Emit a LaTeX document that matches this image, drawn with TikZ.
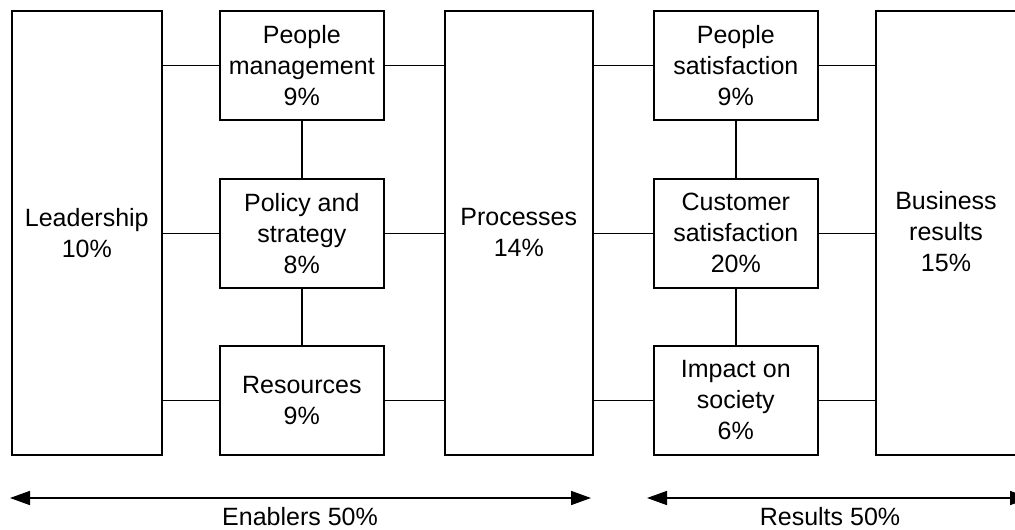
\documentclass[tikz,border=0pt]{standalone}
\usepackage{fontspec}
\setmainfont{Liberation Sans}
\usetikzlibrary{arrows.meta}
\begin{document}
\begin{tikzpicture}[x=1pt,y=-1pt,
  every node/.style={font=\fontsize{25}{31}\selectfont, align=center},
  box/.style={draw, line width=1.6pt, inner sep=0pt, anchor=north west},
  tall/.style={box, minimum height=444pt},
  small/.style={box, minimum width=164pt, minimum height=109pt},
  conn/.style={line width=1.6pt},
  span/.style={line width=1.6pt, {Triangle[length=20pt,width=14pt]}-{Triangle[length=20pt,width=14pt]}}]
\useasboundingbox (0,0) rectangle (1015,530);
\begin{scope}
\clip (0,0) rectangle (1015,530);
\node[tall, minimum width=150pt] (lead) at (11,10) {Leadership\\10\%};
\node[small] (pm) at (219,10) {People\\management\\9\%};
\node[small] (pol) at (219,178) {Policy and\\strategy\\8\%};
\node[small] (res) at (219,345) {Resources\\9\%};
\node[tall, minimum width=148pt] (proc) at (444,10) {Processes\\14\%};
\node[small] (ps) at (653,10) {People\\satisfaction\\9\%};
\node[small] (cs) at (653,178) {Customer\\satisfaction\\20\%};
\node[small] (ims) at (653,345) {Impact on\\society\\6\%};
\node[tall, minimum width=200pt] (br) at (875,10) {};
\node (brt) at (946,232) {Business\\results\\15\%};
% connectors
\draw[conn] (lead.east |- pm.west) -- (pm.west);
\draw[conn] (lead.east |- pol.west) -- (pol.west);
\draw[conn] (lead.east |- res.west) -- (res.west);
\draw[conn] (pm.east) -- (pm.east -| proc.west);
\draw[conn] (pol.east) -- (pol.east -| proc.west);
\draw[conn] (res.east) -- (res.east -| proc.west);
\draw[conn] (pm.south) -- (pol.north);
\draw[conn] (pol.south) -- (res.north);
\draw[conn] (proc.east |- ps.west) -- (ps.west);
\draw[conn] (proc.east |- cs.west) -- (cs.west);
\draw[conn] (proc.east |- ims.west) -- (ims.west);
\draw[conn] (ps.east) -- (ps.east -| br.west);
\draw[conn] (cs.east) -- (cs.east -| br.west);
\draw[conn] (ims.east) -- (ims.east -| br.west);
\draw[conn] (ps.south) -- (cs.north);
\draw[conn] (cs.south) -- (ims.north);
% spans
\coordinate (eL) at (10,498);
\coordinate (eR) at (591,498);
\coordinate (rL) at (647,498);
\coordinate (rR) at (1030,498);
\draw[span] (eL) -- (eR);
\draw[span] (rL) -- (rR);
\node[anchor=base] (en) at (300,525) {Enablers 50\%};
\node[anchor=base] (rs) at (830,525) {Results 50\%};
\end{scope}
\end{tikzpicture}
\end{document}
